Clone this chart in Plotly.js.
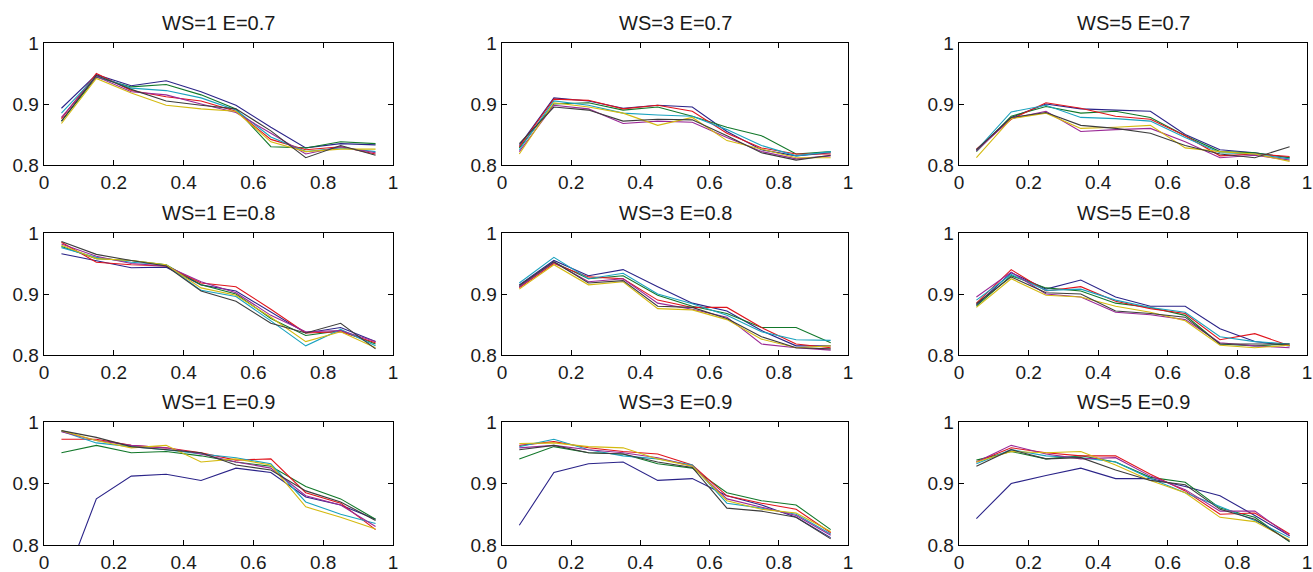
<!DOCTYPE html>
<html>
<head>
<meta charset="utf-8">
<script src="https://cdn.plot.ly/plotly-3.0.1.min.js"></script>
<style>html,body{margin:0;padding:0;background:#fff;}#chart{width:1313px;height:572px;}</style>
</head>
<body>
<div id="chart"></div>
<script>
// x positions shared by all panels
var xVals = [0.05, 0.15, 0.25, 0.35, 0.45, 0.55, 0.65, 0.75, 0.85, 0.95];
var xTickVals = [0, 0.2, 0.4, 0.6, 0.8, 1];
var xTickText = ["0", "0.2", "0.4", "0.6", "0.8", "1"];
var yTickVals = [0.8, 0.9, 1];
var yTickText = ["0.8", "0.9", "1"];
var seriesColors = ["#2a2388", "#12782a", "#e0141c", "#1aa2bf", "#9a2896", "#d4ba10", "#3c3c3c"];
var panelTitles = ["WS=1 E=0.7", "WS=3 E=0.7", "WS=5 E=0.7",
                   "WS=1 E=0.8", "WS=3 E=0.8", "WS=5 E=0.8",
                   "WS=1 E=0.9", "WS=3 E=0.9", "WS=5 E=0.9"];

// each panel: 7 series (blue, green, red, cyan, magenta, yellow, dark)
var ws1_e07 = [
  [0.893, 0.948, 0.930, 0.938, 0.920, 0.898, 0.862, 0.828, 0.835, 0.833],
  [0.872, 0.944, 0.928, 0.932, 0.915, 0.892, 0.830, 0.828, 0.838, 0.835],
  [0.876, 0.950, 0.922, 0.912, 0.905, 0.888, 0.842, 0.825, 0.830, 0.818],
  [0.885, 0.946, 0.926, 0.922, 0.910, 0.890, 0.846, 0.822, 0.828, 0.822],
  [0.878, 0.945, 0.920, 0.915, 0.900, 0.886, 0.852, 0.818, 0.830, 0.820],
  [0.868, 0.942, 0.918, 0.898, 0.892, 0.888, 0.838, 0.822, 0.826, 0.826],
  [0.872, 0.947, 0.924, 0.905, 0.898, 0.892, 0.856, 0.812, 0.832, 0.816]
];
var ws3_e07 = [
  [0.832, 0.910, 0.905, 0.893, 0.898, 0.895, 0.855, 0.825, 0.815, 0.820],
  [0.828, 0.900, 0.902, 0.890, 0.895, 0.880, 0.862, 0.848, 0.818, 0.822],
  [0.830, 0.908, 0.906, 0.892, 0.898, 0.888, 0.852, 0.828, 0.818, 0.818],
  [0.825, 0.905, 0.898, 0.885, 0.882, 0.880, 0.858, 0.832, 0.815, 0.822],
  [0.822, 0.898, 0.892, 0.868, 0.872, 0.870, 0.845, 0.822, 0.810, 0.815],
  [0.818, 0.902, 0.895, 0.885, 0.865, 0.878, 0.840, 0.826, 0.812, 0.812],
  [0.835, 0.895, 0.890, 0.872, 0.875, 0.874, 0.848, 0.820, 0.808, 0.816]
];
var ws5_e07 = [
  [0.824, 0.878, 0.900, 0.892, 0.890, 0.888, 0.850, 0.825, 0.820, 0.812],
  [0.822, 0.880, 0.896, 0.885, 0.888, 0.878, 0.848, 0.822, 0.820, 0.812],
  [0.826, 0.875, 0.902, 0.893, 0.880, 0.875, 0.848, 0.815, 0.818, 0.814],
  [0.824, 0.887, 0.898, 0.878, 0.876, 0.872, 0.845, 0.820, 0.818, 0.810],
  [0.823, 0.876, 0.888, 0.855, 0.858, 0.860, 0.838, 0.812, 0.816, 0.808],
  [0.812, 0.876, 0.885, 0.860, 0.862, 0.865, 0.828, 0.822, 0.818, 0.806],
  [0.825, 0.878, 0.886, 0.865, 0.860, 0.852, 0.832, 0.818, 0.812, 0.830]
];
var ws1_e08 = [
  [0.966, 0.955, 0.943, 0.944, 0.915, 0.905, 0.870, 0.836, 0.845, 0.822],
  [0.978, 0.958, 0.955, 0.948, 0.915, 0.900, 0.860, 0.832, 0.840, 0.818],
  [0.985, 0.952, 0.948, 0.946, 0.918, 0.912, 0.875, 0.836, 0.838, 0.820],
  [0.976, 0.960, 0.952, 0.948, 0.906, 0.896, 0.856, 0.815, 0.842, 0.815],
  [0.982, 0.962, 0.950, 0.946, 0.920, 0.902, 0.865, 0.838, 0.840, 0.822],
  [0.980, 0.958, 0.955, 0.948, 0.910, 0.898, 0.862, 0.822, 0.838, 0.812],
  [0.986, 0.965, 0.955, 0.946, 0.905, 0.888, 0.852, 0.836, 0.852, 0.810]
];
var ws3_e08 = [
  [0.915, 0.955, 0.930, 0.940, 0.912, 0.885, 0.872, 0.840, 0.815, 0.815],
  [0.912, 0.952, 0.925, 0.930, 0.898, 0.880, 0.868, 0.845, 0.845, 0.820],
  [0.910, 0.950, 0.928, 0.925, 0.890, 0.878, 0.878, 0.845, 0.818, 0.812],
  [0.918, 0.960, 0.925, 0.934, 0.900, 0.884, 0.865, 0.838, 0.825, 0.824],
  [0.912, 0.952, 0.920, 0.925, 0.885, 0.875, 0.862, 0.818, 0.812, 0.808],
  [0.908, 0.948, 0.915, 0.920, 0.876, 0.874, 0.858, 0.826, 0.812, 0.815],
  [0.914, 0.953, 0.918, 0.922, 0.880, 0.878, 0.860, 0.830, 0.812, 0.810]
];
var ws5_e08 = [
  [0.882, 0.935, 0.908, 0.923, 0.895, 0.880, 0.880, 0.843, 0.822, 0.815],
  [0.880, 0.930, 0.910, 0.905, 0.885, 0.878, 0.865, 0.818, 0.815, 0.818],
  [0.885, 0.940, 0.905, 0.912, 0.888, 0.876, 0.868, 0.825, 0.835, 0.815],
  [0.890, 0.932, 0.906, 0.908, 0.890, 0.878, 0.870, 0.830, 0.822, 0.818],
  [0.895, 0.936, 0.900, 0.895, 0.870, 0.866, 0.858, 0.820, 0.815, 0.812],
  [0.878, 0.925, 0.898, 0.895, 0.880, 0.870, 0.856, 0.816, 0.812, 0.816],
  [0.884, 0.928, 0.902, 0.900, 0.872, 0.868, 0.862, 0.818, 0.818, 0.818]
];
var ws1_e09 = [
  [0.726, 0.875, 0.912, 0.915, 0.905, 0.925, 0.918, 0.878, 0.865, 0.842],
  [0.950, 0.962, 0.950, 0.952, 0.945, 0.935, 0.928, 0.895, 0.875, 0.842],
  [0.972, 0.972, 0.962, 0.958, 0.950, 0.938, 0.940, 0.885, 0.868, 0.825],
  [0.985, 0.966, 0.960, 0.955, 0.948, 0.942, 0.932, 0.870, 0.850, 0.835],
  [0.984, 0.970, 0.962, 0.958, 0.948, 0.935, 0.925, 0.880, 0.865, 0.830],
  [0.986, 0.970, 0.958, 0.962, 0.935, 0.940, 0.930, 0.862, 0.845, 0.826],
  [0.986, 0.975, 0.960, 0.955, 0.950, 0.930, 0.922, 0.888, 0.870, 0.840]
];
var ws3_e09 = [
  [0.832, 0.918, 0.932, 0.935, 0.905, 0.908, 0.880, 0.865, 0.845, 0.812],
  [0.940, 0.960, 0.950, 0.948, 0.932, 0.925, 0.885, 0.872, 0.865, 0.825],
  [0.962, 0.968, 0.958, 0.952, 0.948, 0.930, 0.880, 0.868, 0.858, 0.820],
  [0.960, 0.972, 0.955, 0.945, 0.940, 0.930, 0.868, 0.860, 0.850, 0.818],
  [0.958, 0.962, 0.955, 0.950, 0.942, 0.928, 0.875, 0.862, 0.848, 0.816],
  [0.965, 0.966, 0.960, 0.958, 0.940, 0.928, 0.872, 0.858, 0.852, 0.822],
  [0.955, 0.962, 0.950, 0.948, 0.935, 0.926, 0.860, 0.855, 0.845, 0.810]
];
var ws5_e09 = [
  [0.843, 0.900, 0.913, 0.925, 0.908, 0.908, 0.895, 0.880, 0.848, 0.815],
  [0.938, 0.952, 0.940, 0.945, 0.935, 0.910, 0.902, 0.860, 0.845, 0.805],
  [0.935, 0.958, 0.950, 0.945, 0.945, 0.915, 0.888, 0.850, 0.852, 0.818],
  [0.932, 0.955, 0.945, 0.942, 0.935, 0.908, 0.885, 0.862, 0.840, 0.812],
  [0.935, 0.962, 0.948, 0.940, 0.942, 0.912, 0.890, 0.855, 0.855, 0.815],
  [0.935, 0.952, 0.950, 0.952, 0.930, 0.905, 0.885, 0.845, 0.838, 0.808],
  [0.928, 0.955, 0.940, 0.942, 0.922, 0.905, 0.898, 0.858, 0.842, 0.806]
];

var panels = [ws1_e07, ws3_e07, ws5_e07, ws1_e08, ws3_e08, ws5_e08, ws1_e09, ws3_e09, ws5_e09];

// layout geometry (pixel boxes)
var W = 1313, H = 572;
var colPx = [[44, 393], [502, 848], [959, 1307]];
var rowPx = [[43, 165], [233, 355], [422, 545]];
var fontFam = "Liberation Sans, Arial, sans-serif";

var traces = [];
var layout = {
  width: W, height: H,
  margin: {l: 0, r: 0, t: 0, b: 0},
  paper_bgcolor: "#fff", plot_bgcolor: "#fff",
  showlegend: false,
  font: {family: fontFam, size: 19, color: "#000"},
  annotations: []
};

panels.forEach(function (panel, i) {
  var r = Math.floor(i / 3), c = i % 3;
  var n = i + 1;
  var xa = n === 1 ? "x" : "x" + n;
  var ya = n === 1 ? "y" : "y" + n;
  panel.forEach(function (vals, k) {
    traces.push({
      type: "scatter", mode: "lines",
      x: xVals, y: vals, xaxis: xa, yaxis: ya,
      line: {color: seriesColors[k], width: 1.1},
      hoverinfo: "skip"
    });
  });
  var xd = [colPx[c][0] / W, colPx[c][1] / W];
  var yd = [1 - rowPx[r][1] / H, 1 - rowPx[r][0] / H];
  var axCommon = {
    showgrid: false, zeroline: false,
    showline: true, linecolor: "#000", linewidth: 1.4, mirror: "ticks",
    ticks: "inside", ticklen: 5, tickwidth: 1, tickcolor: "#000",
    tickfont: {size: 19, family: fontFam, color: "#1a1a1a"},
    fixedrange: true
  };
  layout["xaxis" + (n === 1 ? "" : n)] = Object.assign({}, axCommon, {
    domain: xd, range: [0, 1], anchor: ya,
    tickmode: "array", tickvals: xTickVals, ticktext: xTickText
  });
  layout["yaxis" + (n === 1 ? "" : n)] = Object.assign({}, axCommon, {
    domain: yd, range: [0.8, 1], anchor: xa,
    tickmode: "array", tickvals: yTickVals, ticktext: yTickText
  });
  layout.annotations.push({
    text: panelTitles[i], showarrow: false,
    xref: "paper", yref: "paper",
    x: (xd[0] + xd[1]) / 2, y: yd[1],
    xanchor: "center", yanchor: "bottom", yshift: 7,
    font: {size: 20, family: fontFam, color: "#1a1a1a"}
  });
});

Plotly.newPlot("chart", traces, layout, {staticPlot: true, displayModeBar: false});
</script>
</body>
</html>
